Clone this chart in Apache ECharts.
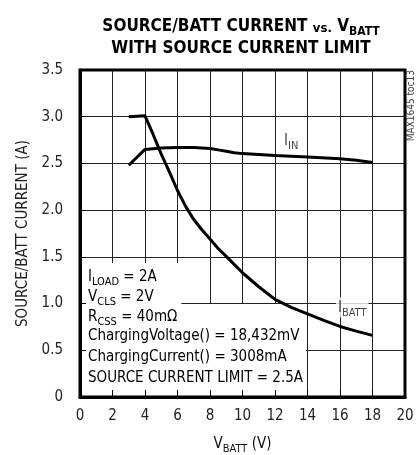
<!DOCTYPE html>
<html><head><meta charset="utf-8">
<script src="https://cdn.jsdelivr.net/npm/echarts@6/dist/echarts.min.js"></script>
<style>html,body{margin:0;padding:0;background:#fff}#c{width:417px;height:455px}</style>
</head><body><div id="c"></div>
<script>
const FONT = "'Liberation Sans Narrow','DejaVu Sans Condensed','Roboto Condensed',sans-serif";
const xTicks = [0,2,4,6,8,10,12,14,16,18,20];
const yTicks = [0,0.5,1.0,1.5,2.0,2.5,3.0,3.5];
const ibattX = [3,4,4.5,5,5.5,6,6.5,7,7.5,8,8.5,9,10,11,12,13,14,15,16,17,18];
const ibattY = [3.00,3.01,2.81,2.60,2.41,2.21,2.04,1.90,1.79,1.69,1.59,1.505,1.33,1.18,1.045,0.96,0.89,0.82,0.755,0.705,0.66];
const iinX = [3,4,5,6,7,8,8.5,9,9.5,10,12,14,16,17,18];
const iinY = [2.48,2.65,2.665,2.67,2.67,2.66,2.645,2.63,2.615,2.605,2.585,2.57,2.55,2.535,2.51];
const curveLabels = ['{n|I}{s|IN}','{n|I}{s|BATT}'];
const curveLabelPos = [[13.0,2.74],[16.75,0.96]];
const notesTop = [
  '{a|I}{b|LOAD}{a| = 2A}',
  '{a|V}{b|CLS}{a| = 2V}',
  '{a|R}{b|CSS}{a| = 40mΩ}'
];
const notesBottom = [
  '{c|ChargingVoltage() = 18,432mV}',
  '{c|ChargingCurrent() = 3008mA}',
  '{c|SOURCE CURRENT LIMIT = 2.5A}'
];

const chart = echarts.init(document.getElementById('c'));
const rich = {
  n:{fontFamily:FONT,fontSize:15,color:'#111',lineHeight:18,verticalAlign:'bottom'},
  s:{fontFamily:FONT,fontSize:11,color:'#111',lineHeight:18,verticalAlign:'bottom',padding:[0,0,-3,0]},
  a:{fontFamily:FONT,fontSize:15,color:'#111',lineHeight:20,verticalAlign:'bottom'},
  b:{fontFamily:FONT,fontSize:11,color:'#111',lineHeight:20,verticalAlign:'bottom',padding:[0,0,-3,0]},
  c:{fontFamily:FONT,fontSize:15,color:'#111',lineHeight:21}
};
const graphics = [
  {type:'text', left:82, top:304, z:5,
    style:{text:notesBottom.join('\n'), rich:rich, backgroundColor:'#fff', padding:[22,3,1,6]}},
  {type:'text', left:82, top:263, z:6,
    style:{text:notesTop.join('\n'), rich:rich, backgroundColor:'#fff', padding:[2,4,0,6]}},
  {type:'text', left:406, top:70, z:5, rotation:Math.PI/2,
    style:{text:'MAX1645 toc13', fontFamily:FONT, fontSize:10, fill:'#444'}}
];

const axX = {min:0,max:20,interval:2};
chart.setOption({
  animation:false,
  title:{
    text:'{t|SOURCE/BATT CURRENT }{v|vs.}{t| V}{ts|BATT}\n{t|WITH SOURCE CURRENT LIMIT}',
    left:236, top:8, textAlign:'center',
    textStyle:{rich:{
      t:{fontFamily:FONT,fontSize:17,fontWeight:'bold',color:'#000',lineHeight:22,verticalAlign:'bottom'},
      v:{fontFamily:FONT,fontSize:13,fontWeight:'bold',color:'#000',lineHeight:22,verticalAlign:'bottom'},
      ts:{fontFamily:FONT,fontSize:12,fontWeight:'bold',color:'#000',lineHeight:22,verticalAlign:'bottom',padding:[0,0,-3,0]}
    }}
  },
  grid:{left:80,right:12,top:70,bottom:58,show:true,borderColor:'#000',borderWidth:3,z:1,
    containLabel:false,outerBoundsMode:'none'},
  xAxis:[
    Object.assign({type:'value',z:0,axisLine:{show:false},axisTick:{show:false},axisLabel:{show:false},
      splitLine:{show:true,lineStyle:{color:'#222',width:1}}},axX),
    Object.assign({type:'value',position:'bottom',z:8,
      name:'{n|V}{s|BATT}{n| (V)}',nameLocation:'middle',nameGap:37,
      nameTextStyle:{rich:rich},
      axisLine:{show:true,onZero:false,lineStyle:{color:'#000',width:3}},
      axisTick:{show:true,inside:true,length:7,lineStyle:{color:'#000',width:1}},
      axisLabel:{fontFamily:FONT,fontSize:15,color:'#222',margin:12},
      splitLine:{show:false}},axX)
  ],
  yAxis:[
    {type:'value',min:0,max:3.5,interval:0.5,z:0,axisLine:{show:false},axisTick:{show:false},axisLabel:{show:false},
      splitLine:{show:true,lineStyle:{color:'#222',width:1}}},
    {type:'value',min:0,max:3.5,interval:0.5,position:'left',z:8,
      name:'SOURCE/BATT CURRENT (A)',nameLocation:'middle',nameGap:38,
      nameTextStyle:{fontFamily:FONT,fontSize:15,color:'#222'},
      axisLine:{show:true,onZero:false,lineStyle:{color:'#000',width:3}},
      axisTick:{show:true,inside:true,length:6,lineStyle:{color:'#000',width:1}},
      axisLabel:{fontFamily:FONT,fontSize:15,color:'#222',margin:17,
        formatter:v=>v===0?'0':v.toFixed(1)},
      splitLine:{show:false}}
  ],
  graphic:graphics,
  series:[
    {type:'line',xAxisIndex:1,yAxisIndex:1,z:7,data:ibattX.map((x,i)=>[x,ibattY[i]]),showSymbol:false,
      lineStyle:{color:'#000',width:3}},
    {type:'line',xAxisIndex:1,yAxisIndex:1,z:7,data:iinX.map((x,i)=>[x,iinY[i]]),showSymbol:false,
      lineStyle:{color:'#000',width:3}},
    {type:'scatter',xAxisIndex:1,yAxisIndex:1,z:6,symbolSize:1,silent:true,
      itemStyle:{color:'#fff'},
      data:curveLabelPos,
      label:{show:true,position:'inside',formatter:p=>curveLabels[p.dataIndex],
        rich:rich,backgroundColor:'#fff',padding:[0,2,2,2]}}
  ]
});
</script></body></html>
